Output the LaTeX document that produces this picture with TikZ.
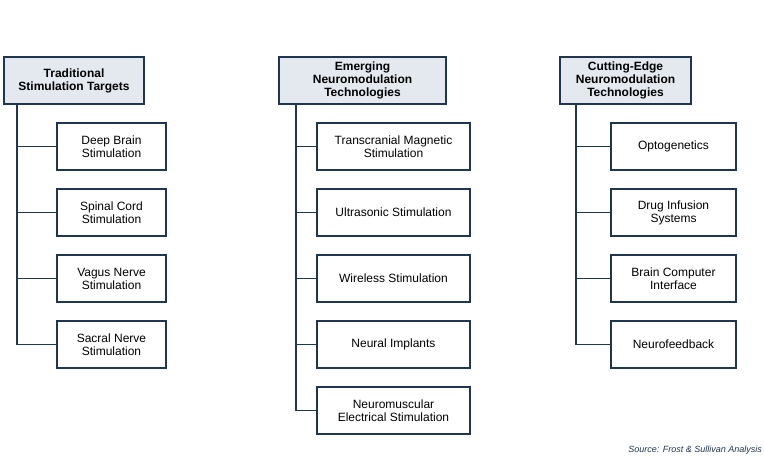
\documentclass[tikz,border=0pt]{standalone}
\usepackage{fontspec}
\setmainfont{Liberation Sans}
\definecolor{navy}{HTML}{1F3550}
\definecolor{headfill}{HTML}{E4E8EF}
\tikzset{
  head/.style={draw=navy, line width=1.6pt, fill=headfill, align=center, font=\fontsize{12}{13}\selectfont\bfseries, inner sep=0pt, minimum height=47pt},
  item/.style={draw=navy, line width=1.6pt, fill=white, align=center, font=\fontsize{12}{13}\selectfont, inner sep=0pt, minimum height=47pt},
  link/.style={draw=navy, line width=1.6pt}
}
\begin{document}
\begin{tikzpicture}[x=1pt, y=-1pt]
    \useasboundingbox (0,0) rectangle (764,457);

    \node[head, minimum width=140pt] at (74, 80.5) (h1) {Traditional\\Stimulation Targets};
    \node[head, minimum width=167pt] at (362.5, 80.5) (h2) {Emerging\\Neuromodulation\\Technologies};
    \node[head, minimum width=131pt] at (625.5, 80.5) (h3) {Cutting-Edge\\Neuromodulation\\Technologies};

    \node[item, minimum width=109pt] at (111.5, 146.5) (a1) {Deep Brain\\Stimulation};
    \node[item, minimum width=109pt] at (111.5, 212.5) (a2) {Spinal Cord\\Stimulation};
    \node[item, minimum width=109pt] at (111.5, 278.5) (a3) {Vagus Nerve\\Stimulation};
    \node[item, minimum width=109pt] at (111.5, 344.5) (a4) {Sacral Nerve\\Stimulation};

    \node[item, minimum width=153pt] at (393.5, 146.5) (b1) {Transcranial Magnetic\\Stimulation};
    \node[item, minimum width=153pt] at (393.5, 212.5) (b2) {Ultrasonic Stimulation};
    \node[item, minimum width=153pt] at (393.5, 278.5) (b3) {Wireless Stimulation};
    \node[item, minimum width=153pt] at (393.5, 344.5) (b4) {Neural Implants};
    \node[item, minimum width=153pt] at (393.5, 410.5) (b5) {Neuromuscular\\Electrical Stimulation};

    \node[item, minimum width=125pt] at (673.5, 146.5) (c1) {Optogenetics};
    \node[item, minimum width=125pt] at (673.5, 212.5) (c2) {Drug Infusion\\Systems};
    \node[item, minimum width=125pt] at (673.5, 278.5) (c3) {Brain Computer\\Interface};
    \node[item, minimum width=125pt] at (673.5, 344.5) (c4) {Neurofeedback};

    \node[anchor=east, inner sep=0pt, text=navy, font=\fontsize{9}{10}\selectfont\itshape] at (762, 450) (src) {Source: Frost \& Sullivan Analysis};

    \draw[link] (h1.south -| 17,0) |- (a4.west);
    \draw[link] (17,0 |- a1.west) -- (a1.west);
    \draw[link] (17,0 |- a2.west) -- (a2.west);
    \draw[link] (17,0 |- a3.west) -- (a3.west);

    \draw[link] (h2.south -| 296,0) |- (b5.west);
    \draw[link] (296,0 |- b1.west) -- (b1.west);
    \draw[link] (296,0 |- b2.west) -- (b2.west);
    \draw[link] (296,0 |- b3.west) -- (b3.west);
    \draw[link] (296,0 |- b4.west) -- (b4.west);

    \draw[link] (h3.south -| 576,0) |- (c4.west);
    \draw[link] (576,0 |- c1.west) -- (c1.west);
    \draw[link] (576,0 |- c2.west) -- (c2.west);
    \draw[link] (576,0 |- c3.west) -- (c3.west);
\end{tikzpicture}
\end{document}
